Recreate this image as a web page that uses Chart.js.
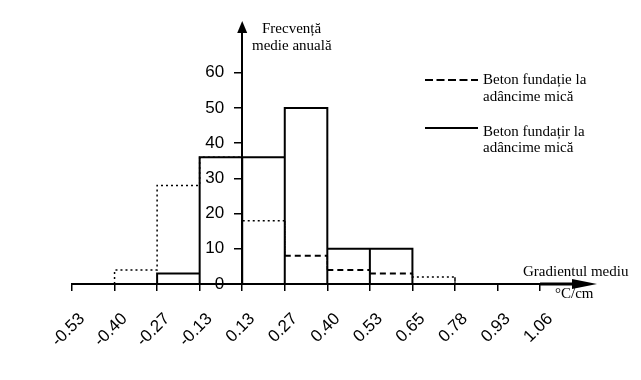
<!DOCTYPE html>
<html>
<head>
<meta charset="utf-8">
<script src="https://cdn.jsdelivr.net/npm/chart.js@4/dist/chart.umd.min.js"></script>
<style>
  html, body { margin: 0; padding: 0; background: #fff; }
  #wrap { width: 641px; height: 380px; }
</style>
</head>
<body>
<div id="wrap"><canvas id="histo"></canvas></div>
<script>
// etichete axa x (gradientul mediu, °C/cm)
const xLabels = ['-0.53', '-0.40', '-0.27', '-0.13', '0.13', '0.27', '0.40', '0.53', '0.65', '0.78', '0.93', '1.06'];
// frecventa medie anuala pe clase
const solidStart = 2;
const solidValues = [3, 36, 36, 50, 10, 10];
const dashStart = 1;
const dashValues = [4, 28, 36, 18, 8, 4, 3, 2];
const yTicks = [0, 10, 20, 30, 40, 50, 60];

// contur dreptunghiuri pentru seria continua
function rectPoints(start, vals) {
    const pts = [];
    vals.forEach((v, i) => {
        const x = start + i;
        pts.push({ x: x, y: 0 }, { x: x, y: v }, { x: x + 1, y: v }, { x: x + 1, y: 0 });
    });
    return pts;
}
// contur in trepte pentru seria punctata
function stepPoints(start, vals) {
    const pts = [{ x: start, y: 0 }];
    vals.forEach((v, i) => {
        pts.push({ x: start + i, y: v }, { x: start + i + 1, y: v });
    });
    pts.push({ x: start + vals.length, y: 0 });
    return pts;
}

const serif = "'Liberation Serif', 'Times New Roman', serif";
const sans = "'Liberation Sans', Arial, sans-serif";

const decor = {
    id: 'decor',
    beforeDraw(chart) {
        // axa y e in mijloc: mutam etichetele la stanga liniei
        const items = chart.scales.y.getLabelItems();
        if (!items._moved) {
            items.forEach(it => { it.options.translation[0] -= 18; });
            items._moved = true;
        }
    },
    afterDraw(chart) {
        const ctx = chart.ctx;
        const xs = chart.scales.x, ys = chart.scales.y;
        const area = chart.chartArea;
        const ax = xs.getPixelForValue(4);
        const ay = ys.getPixelForValue(0);
        ctx.save();
        ctx.fillStyle = '#000';
        ctx.strokeStyle = '#000';
        // sageata verticala
        ctx.beginPath();
        ctx.moveTo(ax - 5, area.top);
        ctx.lineTo(ax + 5, area.top);
        ctx.lineTo(ax, area.top - 12);
        ctx.closePath();
        ctx.fill();
        // sageata orizontala
        ctx.lineWidth = 3;
        ctx.beginPath();
        ctx.moveTo(xs.getPixelForValue(11), ay);
        ctx.lineTo(area.right, ay);
        ctx.stroke();
        ctx.beginPath();
        ctx.moveTo(area.right, ay - 5);
        ctx.lineTo(area.right, ay + 5);
        ctx.lineTo(area.right + 25, ay);
        ctx.closePath();
        ctx.fill();

        // texte
        ctx.font = '15px ' + serif;
        ctx.textAlign = 'left';
        ctx.textBaseline = 'alphabetic';
        ctx.fillText('Frecvență', 262, 33);
        ctx.fillText('medie anuală', 252, 50);
        ctx.fillText('Gradientul mediu', 523, 276);
        ctx.fillText('°C/cm', 555, 298);

        // legenda
        ctx.lineWidth = 2;
        ctx.setLineDash([8, 3.5]);
        ctx.beginPath();
        ctx.moveTo(425, 80);
        ctx.lineTo(478, 80);
        ctx.stroke();
        ctx.setLineDash([]);
        ctx.beginPath();
        ctx.moveTo(425, 128);
        ctx.lineTo(478, 128);
        ctx.stroke();
        ctx.fillText('Beton fundație la', 483, 84);
        ctx.fillText('adâncime mică', 483, 101);
        ctx.fillText('Beton fundațir la', 483, 136);
        ctx.fillText('adâncime mică', 483, 152);
        ctx.restore();
    }
};

new Chart(document.getElementById('histo'), {
    type: 'line',
    data: {
        datasets: [
            {
                label: 'Beton fundație la adâncime mică',
                data: stepPoints(dashStart, dashValues),
                borderColor: '#000',
                borderWidth: 1.5,
                pointRadius: 0,
                fill: false,
                tension: 0,
                segment: {
                    borderDash: ctx => {
                        const p0 = ctx.p0.parsed, p1 = ctx.p1.parsed;
                        if (p0.y === p1.y && p0.x >= 5 && p1.x <= 8) return [6, 4];
                        return [2, 3];
                    },
                    borderWidth: ctx => {
                        const p0 = ctx.p0.parsed, p1 = ctx.p1.parsed;
                        return (p0.y === p1.y && p0.x >= 5 && p1.x <= 8) ? 2 : 1.5;
                    }
                }
            },
            {
                label: 'Beton fundațir la adâncime mică',
                data: rectPoints(solidStart, solidValues),
                borderColor: '#000',
                borderWidth: 2,
                pointRadius: 0,
                fill: false,
                tension: 0
            }
        ]
    },
    options: {
        responsive: true,
        maintainAspectRatio: false,
        animation: false,
        layout: { padding: { left: 72, right: 69, top: 33, bottom: 0 } },
        plugins: {
            legend: { display: false },
            tooltip: { enabled: false }
        },
        scales: {
            x: {
                type: 'linear',
                min: 0,
                max: 11.75,
                afterBuildTicks: scale => {
                    scale.ticks = xLabels.map((_, i) => ({ value: i }));
                },
                afterFit: scale => { scale.height = 96; },
                grid: { drawOnChartArea: false, drawTicks: true, tickLength: 7, color: '#000', lineWidth: 1.5 },
                border: { display: true, color: '#000', width: 2 },
                ticks: {
                    autoSkip: false,
                    maxRotation: 45,
                    minRotation: 45,
                    padding: 18,
                    labelOffset: 10,
                    color: '#000',
                    font: { family: sans, size: 17 },
                    callback: v => xLabels[v]
                }
            },
            y: {
                type: 'linear',
                position: { x: 4 },
                min: 0,
                max: 71.3,
                afterBuildTicks: scale => {
                    scale.ticks = yTicks.map(v => ({ value: v }));
                },
                grid: { drawOnChartArea: false, drawTicks: true, tickLength: 7, color: '#000', lineWidth: 1.5 },
                border: { display: true, color: '#000', width: 2 },
                ticks: {
                    padding: 11,
                    color: '#000',
                    font: { family: sans, size: 17 }
                }
            }
        }
    },
    plugins: [decor]
});
</script>
</body>
</html>
